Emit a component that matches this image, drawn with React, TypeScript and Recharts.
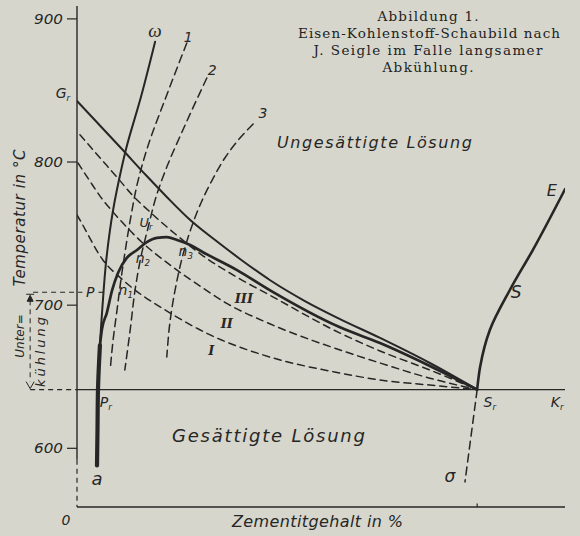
import React from 'react';
import { ComposedChart, Line, XAxis, YAxis, ReferenceLine, ReferenceDot } from 'recharts';

type P = [number, number];

const INK = '#262626';
const BG = '#d6d6cc';
const LETTER = '"DejaVu Sans", "Liberation Sans", sans-serif';
const SERIF = '"DejaVu Serif", "Liberation Serif", serif';

// Axis values
const tempTicks = [600, 700, 800, 900];
const tempDomain: P = [559, 909];
const cementiteDomain: P = [0, 100];
const axisBreakTemp = 592;
const saturationTemp = 641;
const pointSrX = 82;
const pointPTemp = 709;

// Curves (x = Zementitgehalt, t = Temperatur)
const omegaCurve: P[] = [[4.1, 588], [4.2, 613], [4.3, 641], [4.7, 672], [5.2, 698], [6.0, 731.6], [7.4, 766.5], [8.6, 787.4], [10.0, 808.4], [13.1, 845.4], [16.0, 884]];
const omegaFoot: P[] = [[4.1, 588], [4.2, 613], [4.3, 641], [4.7, 672]];
const thickCurve: P[] = [[4.7, 672], [5.1, 683], [6.1, 694.5], [7.2, 710.5], [8.4, 722.5], [10.2, 733], [12.3, 738.5], [14.3, 744], [16.4, 747], [18.4, 747.5], [20.5, 745.5], [23.2, 742], [25.8, 737], [32.8, 724.5], [39.5, 710.5], [53.9, 684.5], [62.1, 673.5], [72.3, 657.5], [82, 641]];
const grCurve: P[] = [[0, 842.6], [9.2, 809.1], [14.3, 790.2], [18.4, 775.6], [23.2, 759.5], [28.3, 745.5], [33.4, 732.3], [39.5, 717.6], [46.7, 702.9], [53.9, 690.3], [62.1, 677.1], [72.3, 659.6], [82, 641]];
const coolingIII: P[] = [[0.6, 819], [4.7, 803], [8.8, 787], [10.9, 778.5], [15.0, 765], [21.1, 747], [25.8, 734.5], [32.8, 719.5], [39.5, 707], [53.9, 680.5], [62.1, 668], [72.3, 654.7], [82, 641]];
const coolingII: P[] = [[0.2, 799.3], [2.5, 787.4], [5.3, 773.5], [7.4, 765], [13.3, 744], [19.1, 728], [25.8, 712], [30.3, 702], [39.5, 687], [53.9, 668.7], [62.1, 659.6], [72.3, 649], [82, 641]];
const coolingI: P[] = [[0, 763], [0.6, 759.5], [5.3, 731.6], [9.4, 717.6], [19.1, 694.5], [27.3, 679.2], [39.5, 663.8], [53.9, 652.6], [62.1, 647.7], [72.3, 644.2], [82, 641]];
const curve1: P[] = [[6.8, 654.7], [7.4, 675.7], [8.2, 696.6], [9.0, 717.6], [10.0, 740.6], [11.1, 763], [12.3, 784], [14.6, 811.9], [18.0, 843.3], [22.5, 883.2]];
const curve2: P[] = [[9.8, 654.7], [10.9, 682.7], [11.9, 710.6], [13.1, 733.7], [14.6, 754.6], [16.2, 775.6], [18.4, 796.5], [21.7, 822.4], [26.6, 858.7]];
const curve3: P[] = [[18.4, 663.8], [19.1, 689.6], [20.3, 714.1], [21.7, 735], [23.4, 753.9], [25.4, 771.4], [27.7, 787.4], [30.3, 802.8], [33.4, 816.8], [36.1, 826.6]];
const sCurve: P[] = [[82, 641], [82.6, 656.8], [84.6, 682.7], [88.7, 710.6], [93.4, 738.5], [100, 781]];
const sigmaLine: P[] = [[82, 641], [79.5, 576.5]];

type Lbl = { main: string; sub?: string; x: number; t: number; size: number; roman?: boolean; serif?: boolean };
const curveLabels: Lbl[] = [
  { main: 'ω', x: 16.0, t: 892, size: 19, serif: true },
  { main: '1', x: 22.8, t: 887, size: 14 },
  { main: '2', x: 27.7, t: 864, size: 14 },
  { main: '3', x: 38.1, t: 834, size: 14 },
  { main: 'G', sub: 'r', x: -2.9, t: 848, size: 14 },
  { main: 'U', sub: 'r', x: 14.1, t: 758, size: 13 },
  { main: 'n', sub: '1', x: 10.0, t: 710.6, size: 14 },
  { main: 'n', sub: '2', x: 13.5, t: 733, size: 14 },
  { main: 'n', sub: '3', x: 22.3, t: 738, size: 14 },
  { main: 'P', x: 2.7, t: 709, size: 14 },
  { main: 'P', sub: 'r', x: 5.9, t: 632, size: 14 },
  { main: 'a', x: 4.1, t: 579, size: 18 },
  { main: 'III', x: 34.2, t: 705, size: 13, roman: true },
  { main: 'II', x: 30.7, t: 687.5, size: 13, roman: true },
  { main: 'I', x: 27.5, t: 668.7, size: 13, roman: true },
  { main: 'S', sub: 'r', x: 84.6, t: 632.4, size: 14 },
  { main: 'K', sub: 'r', x: 98.4, t: 632.4, size: 14 },
  { main: 'σ', x: 76.4, t: 580.7, size: 17 },
  { main: 'S', x: 90.0, t: 709, size: 17 },
  { main: 'E', x: 97.3, t: 780.5, size: 16 },
];

const rows = (pts: P[]) => pts.map(([x, t]) => ({ x, t }));
const rowsByTemp = (pts: P[]) => rows(pts).sort((a, b) => b.t - a.t);

const TempTick = (props: any) => {
  const { x, y, payload } = props;
  return (
    <text x={x} y={y} dy={5} textAnchor="end" fontFamily={LETTER} fontStyle="italic" fontSize={14} fill={INK} textLength={29} lengthAdjust="spacingAndGlyphs">
      {payload.value}
    </text>
  );
};

const makeLabel = (l: Lbl) => (props: any) => {
  const vb = props.viewBox || { x: 0, y: 0, width: 0, height: 0 };
  const cx = vb.x + (vb.width || 0) / 2;
  const cy = vb.y + (vb.height || 0) / 2;
  return (
    <text
      x={cx}
      y={cy}
      dy="0.35em"
      textAnchor="middle"
      fontFamily={l.roman ? '"DejaVu Serif", serif' : l.serif ? '"Liberation Serif", serif' : LETTER}
      fontWeight={l.roman ? 'bold' : 'normal'}
      fontStyle="italic"
      fontSize={l.size}
      fill={INK}
    >
      {l.main}
      {l.sub ? (
        <tspan fontSize={l.size * 0.62} dy="0.35em">
          {l.sub}
        </tspan>
      ) : null}
    </text>
  );
};

const ArrowShape = (p: any) => {
  const { x1, y1, y2 } = p;
  const top = Math.min(y1, y2);
  const bot = Math.max(y1, y2);
  return (
    <g stroke={INK} strokeWidth={1} fill="none">
      <line x1={x1} y1={top + 8} x2={x1} y2={bot - 8} strokeDasharray="5 4" />
      <line x1={x1 - 4} y1={top + 2} x2={x1 + 4} y2={top + 2} />
      <path d={`M${x1 - 3},${top + 9} L${x1},${top + 3} L${x1 + 3},${top + 9} Z`} fill={INK} />
      <path d={`M${x1 - 4},${bot - 8} L${x1},${bot - 1} L${x1 + 4},${bot - 8}`} />
    </g>
  );
};

const lineCommon = { dot: false as const, activeDot: false as const, isAnimationActive: false, dataKey: 't', stroke: INK, strokeLinecap: 'round' as const };

export default function App() {
  return (
    <div style={{ position: 'absolute', left: 0, top: 0, width: 580, height: 536, background: BG, overflow: 'hidden' }}>
      <ComposedChart width={580} height={536} margin={{ top: 6, right: 15, bottom: 0, left: 0 }}>
        <XAxis type="number" dataKey="x" domain={cementiteDomain} allowDataOverflow height={29} tick={false} tickLine={false} axisLine={{ stroke: INK, strokeWidth: 1.4 }} />
        <YAxis
          type="number"
          domain={tempDomain}
          allowDataOverflow
          width={77}
          ticks={tempTicks}
          interval={0}
          axisLine={false}
          tickLine={{ stroke: INK, strokeWidth: 1.2 }}
          tickSize={10}
          tickMargin={4}
          tick={<TempTick />}
        />

        {/* broken temperature axis */}
        <ReferenceLine segment={[{ x: 0, y: tempDomain[1] }, { x: 0, y: axisBreakTemp }]} stroke={INK} strokeWidth={1.4} ifOverflow="visible" />
        <ReferenceLine segment={[{ x: 0, y: axisBreakTemp }, { x: 0, y: tempDomain[0] }]} stroke={INK} strokeWidth={1.2} strokeDasharray="5 4" ifOverflow="visible" />

        {/* saturation line P_r – S_r – K_r */}
        <ReferenceLine segment={[{ x: 0, y: saturationTemp }, { x: 100, y: saturationTemp }]} stroke={INK} strokeWidth={1.4} ifOverflow="visible" />
        <ReferenceLine segment={[{ x: -9.6, y: saturationTemp }, { x: 0, y: saturationTemp }]} stroke={INK} strokeWidth={1.1} strokeDasharray="5 4" ifOverflow="visible" />
        <ReferenceLine segment={[{ x: -9.0, y: pointPTemp }, { x: 1.1, y: pointPTemp }]} stroke={INK} strokeWidth={1.1} strokeDasharray="5 4" ifOverflow="visible" />
        <ReferenceLine segment={[{ x: 4.4, y: pointPTemp }, { x: 5.4, y: pointPTemp }]} stroke={INK} strokeWidth={1.1} ifOverflow="visible" />
        <ReferenceLine segment={[{ x: -9.6, y: pointPTemp }, { x: -9.6, y: saturationTemp }]} ifOverflow="visible" shape={ArrowShape} />
        <ReferenceLine segment={[{ x: pointSrX, y: tempDomain[0] }, { x: pointSrX, y: tempDomain[0] + 2.5 }]} stroke={INK} strokeWidth={1.2} ifOverflow="visible" />

        {/* dashed cooling curves */}
        <Line {...lineCommon} data={rows(coolingI)} type="monotone" strokeWidth={1.5} strokeDasharray="7 5" />
        <Line {...lineCommon} data={rows(coolingII)} type="monotone" strokeWidth={1.5} strokeDasharray="7 5" />
        <Line {...lineCommon} data={rows(coolingIII)} type="monotone" strokeWidth={1.5} strokeDasharray="7 5" />
        <Line {...lineCommon} data={rowsByTemp(curve1)} type="monotoneY" strokeWidth={1.5} strokeDasharray="8 5" />
        <Line {...lineCommon} data={rowsByTemp(curve2)} type="monotoneY" strokeWidth={1.5} strokeDasharray="8 5" />
        <Line {...lineCommon} data={rowsByTemp(curve3)} type="monotoneY" strokeWidth={1.5} strokeDasharray="8 5" />
        <Line {...lineCommon} data={rows(sigmaLine)} type="linear" strokeWidth={1.5} strokeDasharray="8 5" />

        {/* solid curves */}
        <Line {...lineCommon} data={rows(grCurve)} type="monotone" strokeWidth={2} />
        <Line {...lineCommon} data={rows(thickCurve)} type="monotone" strokeWidth={2.7} />
        <Line {...lineCommon} data={rowsByTemp(omegaCurve)} type="monotoneY" strokeWidth={2} />
        <Line {...lineCommon} data={rowsByTemp(omegaFoot)} type="monotoneY" strokeWidth={4.2} />
        <Line {...lineCommon} data={rowsByTemp(sCurve)} type="monotoneY" strokeWidth={2.6} />

        {curveLabels.map((l, i) => (
          <ReferenceDot key={i} x={l.x} y={l.t} r={0.5} fill="none" stroke="none" ifOverflow="visible" label={makeLabel(l)} />
        ))}
      </ComposedChart>

      <svg width={580} height={536} style={{ position: 'absolute', left: 0, top: 0, pointerEvents: 'none' }}>
        <g fontFamily={SERIF} fontSize={13.5} fill="#222" textAnchor="middle">
          <text x={428} y={20.5} textLength={101} lengthAdjust="spacing">Abbildung 1.</text>
          <text x={429} y={37.5} textLength={262} lengthAdjust="spacing">Eisen-Kohlenstoff-Schaubild nach</text>
          <text x={428} y={55} textLength={229} lengthAdjust="spacing">J. Seigle im Falle langsamer</text>
          <text x={428} y={72} textLength={91} lengthAdjust="spacing">Abkühlung.</text>
        </g>
        <g fontFamily={LETTER} fontStyle="italic" fill={INK}>
          <text x={277} y={148} fontSize={16} textLength={195} lengthAdjust="spacing">Ungesättigte Lösung</text>
          <text x={172} y={442} fontSize={18} textLength={193} lengthAdjust="spacing">Gesättigte Lösung</text>
          <text x={232} y={527} fontSize={16} textLength={171} lengthAdjust="spacing">Zementitgehalt in %</text>
          <text x={66} y={525} fontSize={14} textAnchor="middle">0</text>
          <text transform="translate(25,218) rotate(-90)" fontSize={15} textAnchor="middle" textLength={137} lengthAdjust="spacing">Temperatur in °C</text>
          <text transform="translate(24,336) rotate(-90)" fontSize={12} textAnchor="middle">Unter=</text>
          <text transform="translate(45,352) rotate(-90)" fontSize={13} textAnchor="middle" textLength={70} lengthAdjust="spacing">kühlung</text>
        </g>
      </svg>
    </div>
  );
}
